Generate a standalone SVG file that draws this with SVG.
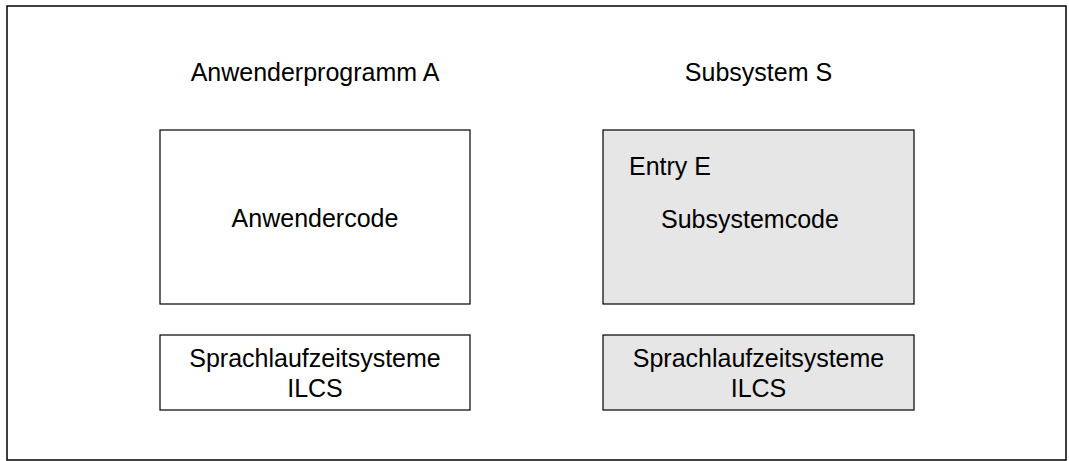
<svg xmlns="http://www.w3.org/2000/svg" width="1069" height="461" viewBox="0 0 1069 461">
<style>
  text { font-family: "Liberation Sans", Arial, sans-serif; font-size: 25px; fill: #000; }
  .box { stroke: #000; stroke-width: 1.2; }
  .white { fill: #ffffff; }
  .grey { fill: #e6e6e6; }
  .frame { fill: #ffffff; stroke: #000; stroke-width: 1.5; }
</style>
<rect class="frame" x="7" y="6" width="1059" height="454"/>
<g id="label-a">
  <text x="315" y="81" text-anchor="middle">Anwenderprogramm A</text>
</g>
<g id="label-s">
  <text x="758.5" y="81" text-anchor="middle">Subsystem S</text>
</g>
<g id="anwendercode">
  <rect class="box white" x="160" y="130" width="310" height="174"/>
  <text x="315" y="227" text-anchor="middle">Anwendercode</text>
</g>
<g id="ilcs-a">
  <rect class="box white" x="160" y="335" width="310" height="75"/>
  <text x="315" y="367" text-anchor="middle">Sprachlaufzeitsysteme</text>
  <text x="315" y="397" text-anchor="middle">ILCS</text>
</g>
<g id="subsystemcode">
  <rect class="box grey" x="603" y="130" width="311" height="174"/>
  <text x="629" y="175">Entry E</text>
  <text x="661" y="228">Subsystemcode</text>
</g>
<g id="ilcs-s">
  <rect class="box grey" x="603" y="335" width="311" height="75"/>
  <text x="758.5" y="367" text-anchor="middle">Sprachlaufzeitsysteme</text>
  <text x="758.5" y="397" text-anchor="middle">ILCS</text>
</g>
<g id="connectors"></g>
</svg>
